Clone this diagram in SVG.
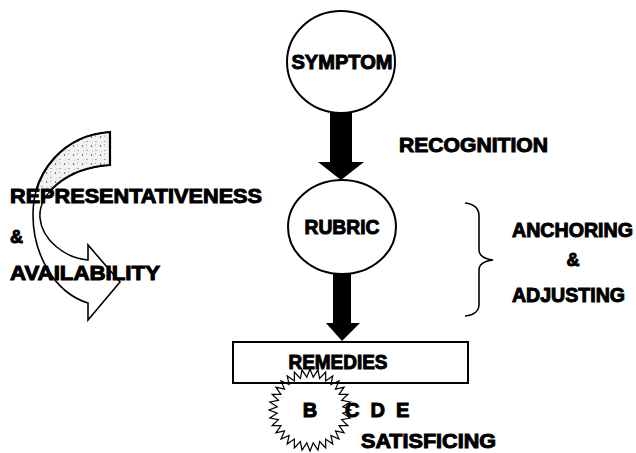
<svg xmlns="http://www.w3.org/2000/svg" width="636" height="453" viewBox="0 0 636 453">
<style>
.t{font-family:"Liberation Sans",Arial,sans-serif;font-weight:bold;fill:#000;stroke:#000;stroke-width:1}
.node{fill:#fff;stroke:#000;stroke-width:2}
.ln{fill:none;stroke:#000;stroke-width:1.6}
.arr{fill:#000;stroke:none}
</style>
<defs>
<pattern id="stip" width="9" height="9" patternUnits="userSpaceOnUse">
<rect width="9" height="9" fill="#f2f2f2"/>
<circle cx="1.5" cy="2" r="0.7" fill="#333"/>
<circle cx="6" cy="6.5" r="0.6" fill="#555"/>
<circle cx="5.5" cy="1" r="0.5" fill="#777"/>
<circle cx="2.5" cy="7" r="0.4" fill="#888"/>
</pattern>
<clipPath id="topclip"><rect x="0" y="120" width="200" height="72"/></clipPath>
</defs>
<rect width="636" height="453" fill="#fff"/>

<g id="curved-arrow">
<path d="M110,132 L110,165 C65,168 38,195 40,218 C42,240 65,258 88,260 L88,245 L120,282 L88,320 L88,303 C55,293 33,255 33,215 C33,170 65,135 110,132 Z" fill="#fff" stroke="#000" stroke-width="1.6"/>
<path d="M110,132 L110,165 C65,168 38,195 40,218 C42,240 65,258 88,260 L88,245 L120,282 L88,320 L88,303 C55,293 33,255 33,215 C33,170 65,135 110,132 Z" fill="url(#stip)" stroke="#000" stroke-width="2.2" clip-path="url(#topclip)"/>
</g>

<g id="connectors">
<path class="arr" d="M330,111 L352,111 L352,162 L364,162 L341,180 L318,162 L330,162 Z"/>
<path class="arr" d="M333,272 L351,272 L351,323 L360,323 L342,341 L326,323 L333,323 Z"/>
<path class="ln" d="M465,203 C474,204 479,208 479,216 L479,250 C479,256 485,259 493,260 C485,261 479,264 479,270 L479,304 C479,312 474,315 465,316"/>
</g>

<g id="symptom">
<ellipse class="node" cx="341" cy="62" rx="54" ry="51"/>
<text class="t" x="342" y="69" font-size="20" text-anchor="middle" textLength="101" lengthAdjust="spacingAndGlyphs">SYMPTOM</text>
</g>

<g id="rubric">
<ellipse class="node" cx="342" cy="227" rx="54" ry="47"/>
<text class="t" x="342" y="234" font-size="20" text-anchor="middle" textLength="75" lengthAdjust="spacingAndGlyphs">RUBRIC</text>
</g>

<g id="remedies">
<rect class="node" x="233" y="342" width="235" height="41" stroke-width="1.6"/>
<text class="t" x="338" y="369" font-size="20" text-anchor="middle" textLength="99" lengthAdjust="spacingAndGlyphs">REMEDIES</text>
</g>

<g id="starburst">
<polygon fill="none" stroke="#000" stroke-width="1.2" points="351.0,410.0 342.8,413.2 350.2,418.0 341.6,419.6 347.9,425.7 339.1,425.6 344.1,432.8 335.5,430.9 339.0,439.0 330.9,435.5 332.8,444.1 325.6,439.1 325.7,447.9 319.6,441.6 318.0,450.2 313.2,442.8 310.0,451.0 306.8,442.8 302.0,450.2 300.4,441.6 294.3,447.9 294.4,439.1 287.2,444.1 289.1,435.5 281.0,439.0 284.5,430.9 275.9,432.8 280.9,425.6 272.1,425.7 278.4,419.6 269.8,418.0 277.2,413.2 269.0,410.0 277.2,406.8 269.8,402.0 278.4,400.4 272.1,394.3 280.9,394.4 275.9,387.2 284.5,389.1 281.0,381.0 289.1,384.5 287.2,375.9 294.4,380.9 294.3,372.1 300.4,378.4 302.0,369.8 306.8,377.2 310.0,369.0 313.2,377.2 318.0,369.8 319.6,378.4 325.7,372.1 325.6,380.9 332.8,375.9 330.9,384.5 339.0,381.0 335.5,389.1 344.1,387.2 339.1,394.4 347.9,394.3 341.6,400.4 350.2,402.0 342.8,406.8"/>
<text class="t" x="310" y="417" font-size="20" text-anchor="middle">B</text>
</g>

<g id="labels">
<text class="t" x="399" y="152" font-size="20" textLength="149" lengthAdjust="spacingAndGlyphs">RECOGNITION</text>
<text class="t" x="512" y="237" font-size="20" textLength="121" lengthAdjust="spacingAndGlyphs">ANCHORING</text>
<text class="t" x="573" y="266" font-size="18" text-anchor="middle">&amp;</text>
<text class="t" x="512" y="302" font-size="20" textLength="113" lengthAdjust="spacingAndGlyphs">ADJUSTING</text>
<text class="t" x="10" y="203" font-size="20" textLength="252" lengthAdjust="spacingAndGlyphs">REPRESENTATIVENESS</text>
<text class="t" x="10" y="243" font-size="18">&amp;</text>
<text class="t" x="10" y="280" font-size="20" textLength="150" lengthAdjust="spacingAndGlyphs">AVAILABILITY</text>
<text class="t" x="345" y="417" font-size="20" xml:space="preserve">C  D  E</text>
<text class="t" x="361" y="448" font-size="20" textLength="135" lengthAdjust="spacingAndGlyphs">SATISFICING</text>
</g>
</svg>
